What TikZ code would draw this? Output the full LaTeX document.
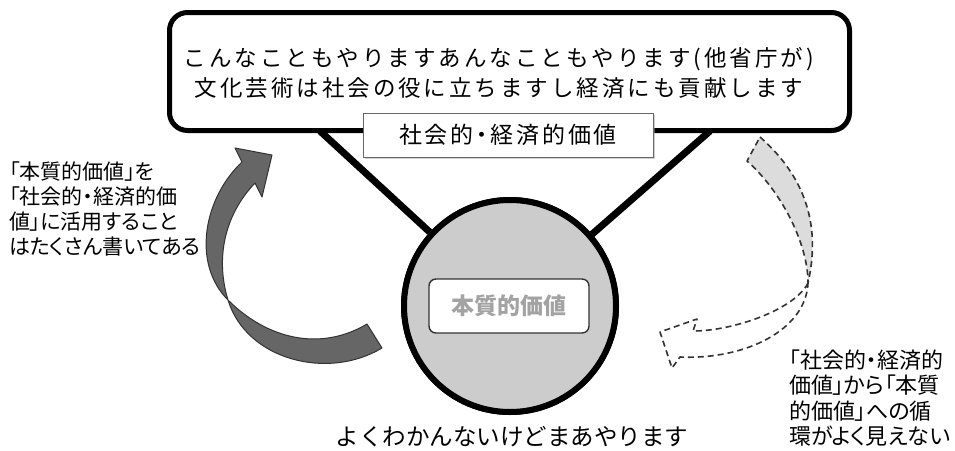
\documentclass[tikz,border=0pt]{standalone}
\usepackage{fontspec}
\setmainfont{Noto Sans CJK JP}
\newfontfamily\jpprop[RawFeature=+palt]{Noto Sans CJK JP}
\newfontfamily\jpspaced[LetterSpace=13.3]{Noto Sans CJK JP}
\newfontfamily\jplabel[LetterSpace=12,RawFeature=+palt]{Noto Sans CJK JP}
\usetikzlibrary{shadows}
\definecolor{arrowdark}{HTML}{666666}
\definecolor{circfill}{HTML}{CCCCCC}
\definecolor{dashfill}{HTML}{DCDCDC}
\definecolor{ivtext}{HTML}{A3A3A3}
\definecolor{edgegray}{HTML}{333333}
\begin{document}
\begin{tikzpicture}[x=1pt,y=-1pt,
  bigbox/.style={draw=black, line width=5pt, rounded corners=18pt, fill=white,
    drop shadow={shadow xshift=2pt, shadow yshift=-2pt, fill=black!45}},
  labbox/.style={draw=black!60, line width=0.8pt, fill=white,
    drop shadow={shadow xshift=1.5pt, shadow yshift=-1.5pt, fill=black!35}},
  ivbox/.style={draw=edgegray, line width=1.4pt, fill=white, rounded corners=7pt},
  circnode/.style={circle, draw=black, line width=6pt, fill=circfill, inner sep=0pt},
  link/.style={line width=7pt, draw=black},
  leftarrow/.style={fill=arrowdark, draw=edgegray, line width=1pt, line join=round},
  dasharrow/.style={draw=edgegray, line width=1.6pt, dash pattern=on 6pt off 4pt, line join=round},
  maintext/.style={font=\jpspaced\fontsize{22.5}{30}\selectfont, align=center, inner sep=0pt},
  lefttext/.style={font=\jpprop\fontsize{21}{24.7}\selectfont, align=left, inner sep=0pt},
  righttext/.style={font=\jpprop\fontsize{22}{25.5}\selectfont, align=left, inner sep=0pt}
]
\useasboundingbox (0,0) rectangle (955,450);

% connecting lines
\coordinate (la) at (320,131);
\coordinate (ra) at (710,131);
\node[circnode, minimum size=212pt] (circ) at (510,306) {};
\draw[link] (la) -- (circ);
\draw[link] (ra) -- (circ);

% top box
\node[bigbox, minimum width=680pt, minimum height=118pt] (top) at (509.5,71.5) {};
\node[maintext] (toptext) at (499,73) {こんなこともやりますあんなこともやります(他省庁が)\\文化芸術は社会の役に立ちますし経済にも貢献します};

% label
\node[labbox, minimum width=290pt, minimum height=44pt, inner sep=0pt,
  font=\jplabel\fontsize{23}{26}\selectfont] (sev) at (508,135) {社会的・経済的価値};

% circle again on top of lines
\node[circnode, minimum size=212pt] (circ2) at (510,306) {};
\node[ivbox, minimum width=160pt, minimum height=54pt, inner sep=0pt,
  font=\fontsize{23}{26}\selectfont\bfseries, text=ivtext] (iv) at (509,306) {本質的価値};

% bottom text
\node[inner sep=0pt, font=\fontsize{23.5}{28}\selectfont] (bt) at (512,437) {よくわかんないけどまあやります};

% left curved arrow
\filldraw[leftarrow] (367,324) .. controls (320,352) and (266.9,338.9) .. (228,300)
  .. controls (191.2,263.2) and (204.1,197.6) .. (242,162)
  -- (235,148) -- (272,155) -- (262,197) -- (255,183)
  .. controls (224.6,214.9) and (215.2,257.9) .. (228,300)
  .. controls (246.4,360.2) and (328.1,380.6) .. (382,348) -- cycle;

% right dashed arrow
\filldraw[dasharrow, fill=dashfill] (760,137) .. controls (808.8,179.9) and (820,230) .. (808,283)
  .. controls (808,243) and (780.8,190.7) .. (747,161) -- cycle;
\draw[dasharrow] (808,283) .. controls (794.5,309.7) and (733,331) .. (693,331)
  -- (697,319) -- (660,332) -- (672,368) -- (680,357)
  .. controls (745,360) and (806,330) .. (808,283);

% side texts
\node[lefttext, anchor=west] (lt) at (9,209) {「本質的価値」を\\「社会的・経済的価\\値」に活用すること\\はたくさん書いてある};
\node[righttext, anchor=west] (rt) at (789,398) {「社会的・経済的\\価値」から「本質\\的価値」への循\\環がよく見えない};
\end{tikzpicture}
\end{document}
